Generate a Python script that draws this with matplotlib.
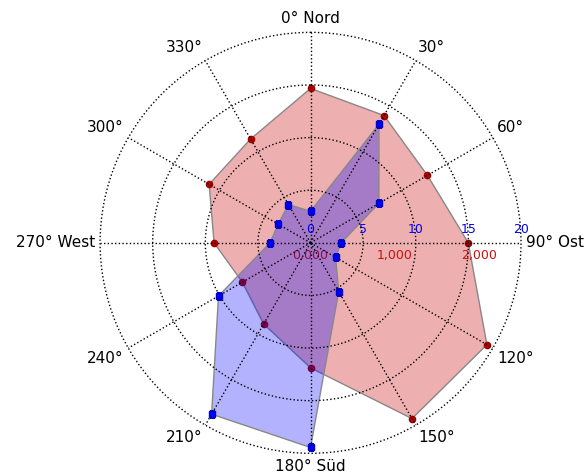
import numpy as np
import matplotlib
matplotlib.use('Agg')
from matplotlib import pyplot as plt
from matplotlib.transforms import offset_copy

# compass directions in degrees (clockwise from north)
directions = [0, 30, 60, 90, 120, 150, 180, 210, 240, 270, 300, 330]
direction_labels = ['0° Nord', '30°', '60°', '90° Ost', '120°', '150°',
                    '180° Süd', '210°', '240°', '270° West', '300°', '330°']

# red series (outer scale 0..2500)
red_values = [1834, 1746, 1603, 1874, 2419, 2411, 1485, 1114, 935, 1146, 1391, 1424]
red_ticks = [0, 1000, 2000]
red_tick_labels = ['0,000', '1,000', '2,000']

# blue series (inner scale 0..20)
blue_values = [3.0, 13.0, 7.5, 2.9, 2.75, 5.35, 19.45, 18.8, 10.1, 3.85, 3.55, 4.2]
blue_ticks = [0, 5, 10, 15, 20]
blue_tick_labels = ['0', '5', '10', '15', '20']

theta = np.deg2rad(directions)

fig = plt.figure(figsize=(5.85, 4.74), dpi=100)
rect = [0.171, 0.0437, 0.7197, 0.888]

# red axis underneath
ax = fig.add_axes(rect, polar=True)
ax.set_theta_zero_location('N')
ax.set_theta_direction(-1)
ax.set_ylim(0, 2500)
ax.set_xticks([])
ax.set_yticks([])
ax.grid(False)
ax.spines['polar'].set_visible(False)

ax.fill(theta, red_values, facecolor=(0.8, 0.1, 0.1, 0.35), edgecolor='#888888',
        linewidth=1, zorder=1)
ax.plot(theta, red_values, 'o', color='#b80000', markeredgecolor='#990000',
        markersize=4.5, zorder=3)

trans_down = offset_copy(ax.transData, fig=fig, y=-13, units='dots')
for r, lab in zip(red_ticks, red_tick_labels):
    ax.text(np.pi / 2, r, lab, transform=trans_down, ha='center', va='center',
            color='#cc1111', fontsize=9)

# blue axis on top, carries the grid
ax2 = fig.add_axes(rect, polar=True)
ax2.patch.set_visible(False)
ax2.set_theta_zero_location('N')
ax2.set_theta_direction(-1)
ax2.set_ylim(0, 20)
ax2.set_yticks([5, 10, 15, 20])
ax2.set_yticklabels([])
ax2.set_xticks(theta)
ax2.set_xticklabels([])
ax2.set_axisbelow(False)
ax2.grid(True, color='black', linestyle=':', linewidth=1)
ax2.spines['polar'].set_visible(False)
for gl in ax2.yaxis.get_gridlines():
    gl.set_clip_on(False)

# direction labels hugging the outer ring
for t, lab in zip(theta, direction_labels):
    s, c = np.sin(t), np.cos(t)
    ha = 'left' if s > 0.01 else ('right' if s < -0.01 else 'center')
    va = 'bottom' if c > 0.01 else ('top' if c < -0.01 else 'center')
    tr = offset_copy(ax2.transData, fig=fig, x=5 * s, y=6 * c, units='dots')
    ax2.text(t, 20, lab, transform=tr, ha=ha, va=va, fontsize=11)

ax2.fill(theta, blue_values, facecolor=(0, 0, 1, 0.3), edgecolor='#888888',
         linewidth=1, zorder=2)
ax2.plot(theta, blue_values, 's', color='blue', markeredgecolor='#0000cc',
         markersize=5, zorder=4)

trans_up = offset_copy(ax2.transData, fig=fig, y=13, units='dots')
for r, lab in zip(blue_ticks, blue_tick_labels):
    ax2.text(np.pi / 2, r, lab, transform=trans_up, ha='center', va='center',
             color='blue', fontsize=9, zorder=1)

fig.savefig('out.png', dpi=100)
